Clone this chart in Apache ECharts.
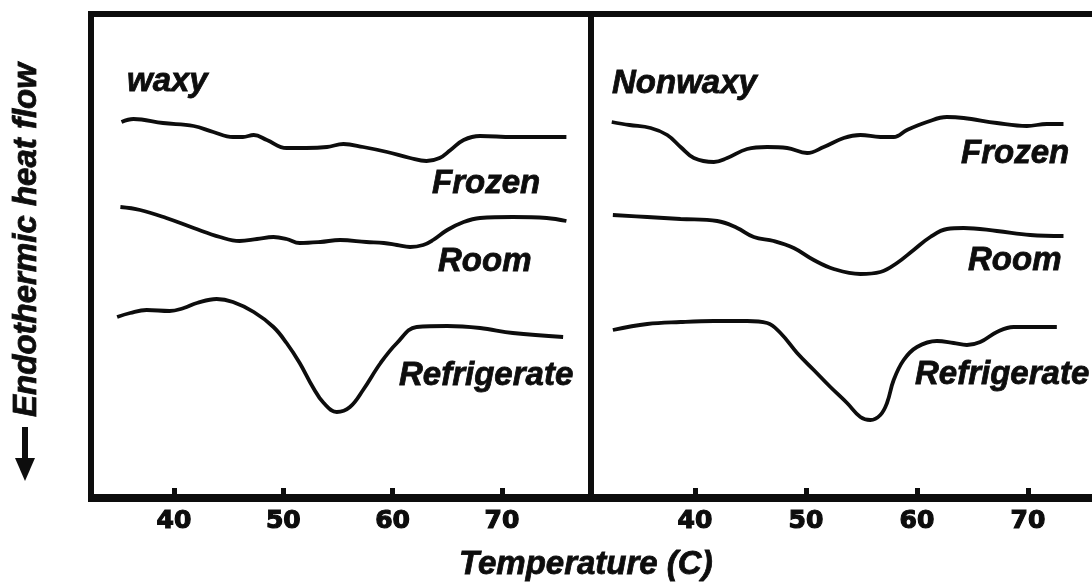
<!DOCTYPE html>
<html>
<head>
<meta charset="utf-8">
<script src="https://cdn.jsdelivr.net/npm/echarts@6/dist/echarts.min.js"></script>
<style>html,body{margin:0;padding:0;background:#fff;}#c{width:1092px;height:584px;}</style>
</head>
<body>
<div id="c"></div>
<script>
// Temperature ticks (°C)
const tickValues = [40, 50, 60, 70];

// Waxy panel (temperature, heat flow in arbitrary units, offset per curve)
const waxyFrozenT = [35.2,36.3,39.0,41.8,43.6,45.4,46.3,47.3,48.5,50.3,52.1,54.0,55.5,57.3,59.5,61.6,63.1,64.3,65.3,66.5,68.0,71.0,74.1,75.9];
const waxyFrozenV = [37.5,37.8,37.4,37.1,36.5,36.0,36.0,36.2,35.7,34.9,34.9,35.0,35.3,35.0,34.5,33.9,33.6,33.9,34.7,35.7,36.1,36.0,36.0,36.0];

const waxyRoomT = [35.1,36.9,39.3,41.8,44.2,46.0,47.6,49.1,50.3,51.5,53.4,55.2,57.6,59.2,60.4,61.6,62.8,63.7,65.0,66.5,68.0,71.0,74.1,75.9];
const waxyRoomV = [29.0,28.7,27.9,26.9,26.0,25.6,25.8,26.0,25.8,25.4,25.5,25.7,25.5,25.4,25.2,25.0,25.2,25.7,26.7,27.5,27.9,28.0,27.9,27.6];

const waxyRefrigT = [34.8,36.0,37.5,39.6,40.9,42.1,43.9,45.4,47.3,49.1,50.3,51.5,52.7,53.7,54.9,56.1,57.3,58.9,60.4,62.2,65.0,68.0,71.0,75.6];
const waxyRefrigV = [18.0,18.4,18.7,18.6,18.9,19.4,19.8,19.5,18.5,17.0,15.4,13.4,11.0,9.4,8.5,9.0,10.7,13.4,15.4,17.0,17.1,16.9,16.4,16.0];

// Nonwaxy panel
const nonFrozenT = [32.5,34.1,36.0,37.5,38.7,39.9,41.7,42.9,44.7,46.5,48.3,50.1,51.6,53.4,54.9,56.7,57.9,59.1,60.9,62.7,64.2,67.2,69.9,71.7,73.2];
const nonFrozenV = [37.5,37.2,36.9,36.2,35.0,33.9,33.5,33.9,34.8,35.0,34.9,34.4,35.0,35.9,36.2,36.0,36.0,36.7,37.5,38.0,37.9,37.4,37.1,37.3,37.3];

const nonRoomT = [32.6,35.7,38.7,42.0,43.8,45.3,47.1,48.9,50.7,52.5,54.9,56.7,58.2,59.7,61.2,62.7,64.2,67.2,70.2,73.2];
const nonRoomV = [28.2,28.0,27.8,27.6,26.9,26.0,25.6,24.9,23.7,22.8,22.3,22.5,23.4,24.7,26.0,26.8,26.9,26.6,26.2,26.1];

const nonRefrigT = [32.6,35.7,38.7,41.7,44.7,46.5,47.7,49.2,50.7,52.2,53.7,54.9,55.8,56.7,57.3,57.9,58.8,60.0,61.8,63.3,64.5,65.7,67.2,68.7,71.1,72.6];
const nonRefrigV = [16.7,17.3,17.5,17.6,17.6,17.4,16.4,14.4,12.7,11.0,9.4,8.0,7.7,8.2,9.4,11.7,13.7,15.0,15.6,15.4,15.2,15.5,16.5,17.0,17.0,17.0];

const panelTitles = ['waxy', 'Nonwaxy'];
const curveNames = ['Frozen', 'Room', 'Refrigerate'];

function pairs(t, v) { return t.map((x, i) => [x, v[i]]); }

const lineStyle = { color: '#0d0d0d', width: 3.8 };
function mk(name, xi, t, v) {
  return { name: name, type: 'line', xAxisIndex: xi, yAxisIndex: xi, data: pairs(t, v),
    smooth: 0.4, showSymbol: false, lineStyle: lineStyle, silent: true };
}

const labelFont = { fontFamily: 'Liberation Sans', fontWeight: 'bold', fontStyle: 'italic', fontSize: 33, fill: '#0d0d0d', stroke: '#0d0d0d', lineWidth: 0.8 };
function txt(s, x, y, extra) {
  return Object.assign({ type: 'text', x: x, y: y, style: Object.assign({ text: s, textVerticalAlign: 'middle' }, labelFont) }, extra || {});
}

function xAx(gi, min, max) {
  return { type: 'value', gridIndex: gi, min: min, max: max,
    axisLine: { show: true, lineStyle: { color: '#0d0d0d', width: 6 } },
    axisTick: { show: true, inside: true, length: 9, customValues: tickValues, lineStyle: { color: '#0d0d0d', width: 5 } },
    axisLabel: { show: true, customValues: tickValues, margin: 10, color: '#0d0d0d', fontFamily: 'DejaVu Sans', fontWeight: 'bold', fontSize: 25, textBorderColor: '#0d0d0d', textBorderWidth: 1.2 },
    splitLine: { show: false } };
}
function yAx(gi) {
  return { type: 'value', gridIndex: gi, min: -0.2, max: 48.3, show: false, splitLine: { show: false } };
}

const chart = echarts.init(document.getElementById('c'), null, { renderer: 'canvas' });
chart.setOption({
  backgroundColor: '#ffffff',
  animation: false,
  grid: [
    { left: 91, top: 14, width: 500, height: 485, show: true, borderColor: '#0d0d0d', borderWidth: 6, backgroundColor: 'transparent', outerBoundsMode: 'none', containLabel: false },
    { left: 591, top: 14, width: 511, height: 485, show: true, borderColor: '#0d0d0d', borderWidth: 6, backgroundColor: 'transparent', outerBoundsMode: 'none', containLabel: false }
  ],
  xAxis: [xAx(0, 32.41, 78.15), xAx(1, 30.63, 76.67)],
  yAxis: [yAx(0), yAx(1)],
  series: [
    mk(curveNames[0], 0, waxyFrozenT, waxyFrozenV),
    mk(curveNames[1], 0, waxyRoomT, waxyRoomV),
    mk(curveNames[2], 0, waxyRefrigT, waxyRefrigV),
    mk(curveNames[0], 1, nonFrozenT, nonFrozenV),
    mk(curveNames[1], 1, nonRoomT, nonRoomV),
    mk(curveNames[2], 1, nonRefrigT, nonRefrigV)
  ],
  graphic: [
    txt(panelTitles[0], 127, 82),
    txt(panelTitles[1], 612, 84),
    txt(curveNames[0], 432, 184),
    txt(curveNames[1], 438, 262),
    txt(curveNames[2], 399, 376),
    txt(curveNames[0], 961, 154),
    txt(curveNames[1], 968, 261),
    txt(curveNames[2], 915, 375),
    txt('Temperature (C)', 459, 565),
    txt('Endothermic heat flow', 27, 240, { rotation: Math.PI / 2, style: Object.assign({ text: 'Endothermic heat flow', textAlign: 'center', textVerticalAlign: 'middle' }, labelFont) }),
    { type: 'rect', shape: { x: 22, y: 427, width: 6, height: 36 }, style: { fill: '#0d0d0d' } },
    { type: 'polygon', shape: { points: [[15, 458], [35, 458], [25, 481]] }, style: { fill: '#0d0d0d' } }
  ]
});
</script>
</body>
</html>
